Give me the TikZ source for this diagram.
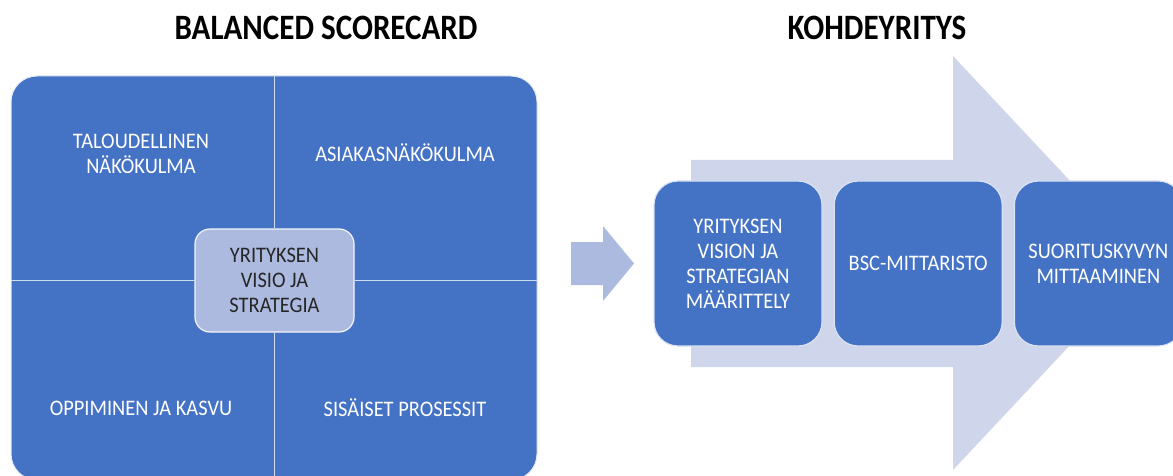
\documentclass[tikz,border=0pt]{standalone}
\usepackage{fontspec}
\setmainfont{Carlito}
\newfontfamily\bodyfam{Carlito}[FakeStretch=0.92]
\newfontfamily\titlefam{Carlito}[FakeStretch=0.87]
\usetikzlibrary{positioning}
\definecolor{bscblue}{RGB}{68,114,196}
\definecolor{bsclight}{RGB}{173,186,224}
\definecolor{arrowlight}{RGB}{207,213,234}
\definecolor{textdark}{RGB}{38,38,38}
\tikzset{
  bodyfont/.style={font=\bodyfam\fontsize{22.2}{25}\selectfont},
  titlefont/.style={font=\titlefam\fontsize{35.7}{40}\selectfont\bfseries},
  quadtext/.style={bodyfont, text=white, align=center, inner sep=0pt},
  quadline/.style={draw=white!75!bscblue, line width=1.3pt},
  stepbox/.style={bodyfont, fill=bscblue, draw=white!80!bscblue, line width=1.2pt, rounded corners=24pt,
    minimum width=168pt, minimum height=165pt, text=white, align=center, inner sep=0pt},
}
\begin{document}
\begin{tikzpicture}[x=1pt, y=-1pt]
\useasboundingbox (0,0) rectangle (1173,476);
\clip (0,0) rectangle (1173,476);
% titles
\node[titlefont] (title1) at (326,28) {BALANCED SCORECARD};
\node[titlefont] (title2) at (877,28) {KOHDEYRITYS};
% balanced scorecard
\node[fill=bscblue, draw=white!85!bscblue, line width=1pt, rounded corners=26pt, minimum width=526pt, minimum height=404pt, inner sep=0pt] (bsc) at (274,278) {};
\node[bodyfont, fill=bsclight, draw=white!85!bsclight, line width=1.2pt, rounded corners=15pt, minimum width=159pt, minimum height=103pt, text=textdark, align=center, inner sep=0pt] (ctr) at (274.5,280.5) {YRITYKSEN\\VISIO JA\\STRATEGIA};
\draw[quadline] (ctr.north) -- (ctr.north |- bsc.north);
\draw[quadline] (ctr.south) -- (ctr.south |- bsc.south);
\draw[quadline] (ctr.west) -- (ctr.west -| bsc.west);
\draw[quadline] (ctr.east) -- (ctr.east -| bsc.east);
\node[quadtext] (tfin) at (141,153.5) {TALOUDELLINEN\\NÄKÖKULMA};
\node[quadtext] (tcust) at (405,152.7) {ASIAKASNÄKÖKULMA};
\node[quadtext] (tlearn) at (141,408) {OPPIMINEN JA KASVU};
\node[quadtext] (tproc) at (405,408) {SISÄISET PROSESSIT};
% arrows
\fill[bsclight] (571,242) -- (603,242) -- (603,226) -- (634,263.5) -- (603,301) -- (603,285) -- (571,285) -- cycle;
\fill[arrowlight] (691,160) -- (953,160) -- (953,56) -- (1147,263) -- (953,470) -- (953,367) -- (691,367) -- cycle;
% kohdeyritys
\node[stepbox] (step1) at (738,263.5) {YRITYKSEN\\VISION JA\\STRATEGIAN\\MÄÄRITTELY};
\node[stepbox, right=11pt of step1] (step2) {BSC-MITTARISTO};
\node[stepbox, right=11pt of step2] (step3) {SUORITUSKYVYN\\MITTAAMINEN};
\end{tikzpicture}
\end{document}
